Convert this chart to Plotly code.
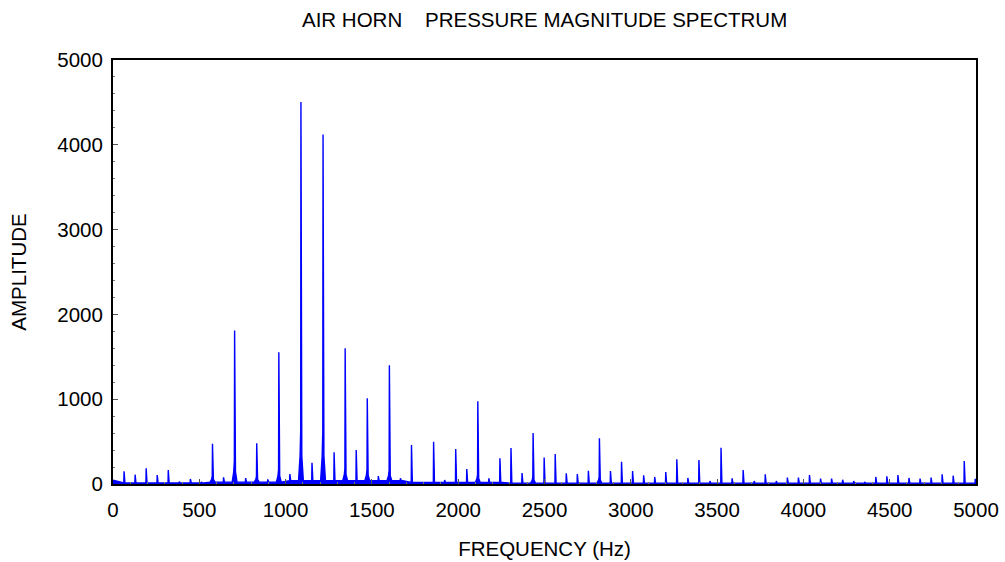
import plotly.graph_objects as go

# Fundamental frequency of the harmonic series (Hz)
f0 = 64.05
harmonic_numbers = list(range(1, 79))
# Amplitude of each harmonic peak n = 1..78
harmonic_amps = [
    150, 110, 185, 106, 165, 27, 59, 25, 475, 79,
    1810, 70, 480, 55, 1555, 118, 4505, 251, 4120, 373,
    1600, 401, 1010, 94, 1400, 67, 460, 15, 499, 47,
    413, 177, 975, 67, 303, 424, 130, 601, 311, 354,
    126, 118, 157, 539, 153, 263, 153, 102, 83, 141,
    291, 71, 283, 35, 428, 67, 165, 35, 114, 35,
    75, 75, 106, 63, 63, 51, 35, 24, 83, 90,
    106, 71, 63, 75, 114, 98, 271, 60,
]
# Noise floor level by frequency band
floor_edges_hz = [0, 520, 1000, 1700, 2300, 5001]
floor_levels = [12, 22, 38, 18, 10]
# Leakage skirts at the base of the strongest peaks
skirt_harmonics = [9, 11, 13, 15, 17, 19, 21, 23, 25, 33, 38, 44]
skirt_values = [90, 270, 90, 170, 620, 620, 180, 170, 160, 110, 80, 80]

def floor_at(f):
    for i in range(len(floor_levels)):
        if floor_edges_hz[i] <= f < floor_edges_hz[i + 1]:
            return floor_levels[i]
    return floor_levels[-1]

xs, ys = [0.0], [45.0]
for n, a in zip(harmonic_numbers, harmonic_amps):
    f = n * f0
    fl = floor_at(f)
    sk = skirt_values[skirt_harmonics.index(n)] if n in skirt_harmonics else fl
    xs += [f - 14, f - 5, f - 1.5, f, f + 1.5, f + 5, f + 14]
    ys += [fl, (fl + sk) / 2 if sk > fl else fl, sk, a, sk, (fl + sk) / 2 if sk > fl else fl, fl]
xs.append(5000)
ys.append(floor_levels[-1])

fig = go.Figure(go.Scatter(
    x=xs, y=ys, mode="lines",
    line=dict(color="#0000FF", width=1.4),
    fill="tozeroy", fillcolor="#0000FF",
    hoverinfo="skip",
))

font = dict(family="Liberation Sans, Arial, sans-serif", size=20.5, color="black")
axis_common = dict(
    showgrid=False, zeroline=False, automargin=False,
    showline=True, linecolor="black", linewidth=2, mirror=True,
    ticks="inside", ticklen=5, tickcolor="#555", tickwidth=1,
    tickfont=font,
)
fig.update_xaxes(range=[0, 5000], dtick=500, tick0=0,
                 minor=dict(dtick=100, ticks="inside", ticklen=2, tickcolor="#777"),
                 ticklabelstandoff=6,
                 title=dict(text="FREQUENCY (Hz)", font=font, standoff=22),
                 **axis_common)
fig.update_yaxes(range=[0, 5000], dtick=1000, tick0=0,
                 minor=dict(dtick=200, ticks="inside", ticklen=2, tickcolor="#777"),
                 ticklabelstandoff=4,
                 title=dict(text="AMPLITUDE", font=font, standoff=25),
                 **axis_common)
fig.update_layout(
    width=1005, height=562,
    margin=dict(l=113, r=29, t=60, b=78, autoexpand=False),
    paper_bgcolor="white", plot_bgcolor="white",
    showlegend=False,
    title=dict(text="AIR HORN\u00a0\u00a0\u00a0\u00a0PRESSURE MAGNITUDE SPECTRUM",
               font=font, x=0.5419, xanchor="center", y=0.965, yanchor="middle"),
    font=font,
)
fig.write_html("out.html")
